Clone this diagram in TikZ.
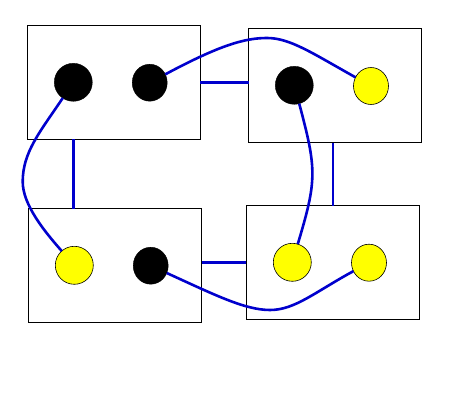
\documentclass[tikz,border=0pt]{standalone}
\usetikzlibrary{shapes.geometric}
\definecolor{wireblue}{RGB}{0,0,205}
\definecolor{dotyellow}{RGB}{255,255,0}
\begin{document}
\begin{tikzpicture}[x=1pt,y=-1pt,
  box/.style={draw=black,line width=1.1pt,rectangle,minimum width=173pt,minimum height=114pt,inner sep=0pt,outer sep=0pt},
  bigdot/.style={circle,minimum size=38pt,inner sep=0pt,outer sep=0pt},
  smalldot/.style={ellipse,minimum width=35pt,minimum height=37pt,inner sep=0pt,outer sep=0pt},
  blackfill/.style={fill=black,draw=black,line width=0.4pt},
  yellowfill/.style={fill=dotyellow,draw=black,line width=0.6pt},
  wire/.style={draw=wireblue,line width=2.6pt}]
\useasboundingbox[fill=white] (0,0) rectangle (461,404);
% boxes
\node[box] (b1) at (113.8,82.3) {};
\node[box] (b2) at (335,85.5) {};
\node[box] (b3) at (115,265.5) {};
\node[box] (b4) at (332.8,262.5) {};
% dots
\node[bigdot,blackfill] (c1) at (73.3,82.3) {};
\node[smalldot,blackfill] (c2) at (149.7,82.7) {};
\node[bigdot,blackfill] (c3) at (294.3,85.3) {};
\node[smalldot,yellowfill] (c4) at (371,86) {};
\node[bigdot,yellowfill] (c5) at (74.3,265.3) {};
\node[smalldot,blackfill] (c6) at (150.7,265.7) {};
\node[bigdot,yellowfill] (c7) at (292.3,262.3) {};
\node[smalldot,yellowfill] (c8) at (369,262.7) {};
% box links
\draw[wire] (b1.east) -- (b1.east -| b2.west);
\draw[wire] (c1 |- b1.south) -- (c1 |- b3.north);
\draw[wire] (b4.north) -- (b4.north |- b2.south);
\draw[wire] (b4.west -| b3.east) -- (b4.west);
% curves
\draw[wire] (c1) .. controls (40,132) and (22.7,152) .. (22.7,181.7)
  .. controls (22.7,205) and (45,232) .. (c5);
\draw[wire] (c2) .. controls (220,45) and (245,38) .. (267,38)
  .. controls (290,38) and (312,53) .. (c4);
\draw[wire] (c3) .. controls (317,170) and (317,180) .. (c7);
\draw[wire] (c6) .. controls (215,295) and (245,310) .. (270,310)
  .. controls (295,310) and (315,292) .. (c8);
\end{tikzpicture}
\end{document}
